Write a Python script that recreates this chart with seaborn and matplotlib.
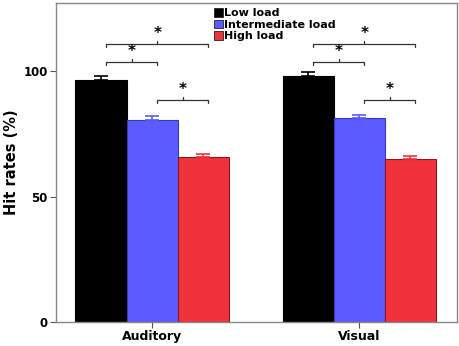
import seaborn as sns
import pandas as pd
import matplotlib.pyplot as plt
from matplotlib.patches import Patch

modalities = ['Auditory', 'Visual']
loads = ['Low load', 'Intermediate load', 'High load']
hit_rates = {
    'Auditory': [96.4, 80.6, 65.9],
    'Visual': [98.0, 81.3, 65.1],
}
errors = {
    'Auditory': [1.6, 1.5, 1.2],
    'Visual': [1.6, 1.2, 1.2],
}
# significance brackets: (first load, second load, height)
brackets = [(0, 1, 103.6), (1, 2, 88.5), (0, 2, 110.6)]
yticks = [0, 50, 100]

colors = ['#000000', '#5a5cff', '#ef323c']
edges = ['#000000', '#3a3ab0', '#8a1a20']

rows = []
for m in modalities:
    for i, l in enumerate(loads):
        rows.append({'Modality': m, 'Load': l, 'Hit': hit_rates[m][i], 'Err': errors[m][i]})
df = pd.DataFrame(rows)

sns.set_style('white')
plt.rcParams['font.family'] = ['DejaVu Sans']
plt.rcParams['text.color'] = 'black'
plt.rcParams['axes.labelcolor'] = 'black'
plt.rcParams['xtick.color'] = 'black'
plt.rcParams['ytick.color'] = 'black'

fig = plt.figure(figsize=(4.59, 3.46), dpi=100)
ax = fig.add_axes([0.122, 0.069, 0.874, 0.922])

sns.barplot(data=df, x='Modality', y='Hit', hue='Load', order=modalities, hue_order=loads,
            palette=colors, saturation=1, width=0.74, errorbar=None, linewidth=0.8,
            ax=ax, legend=False)

# bar positions in data coordinates
centers = {}
for j, l in enumerate(loads):
    cont = ax.containers[j]
    for k, m in enumerate(modalities):
        p = cont.patches[k]
        p.set_edgecolor(edges[j])
        cx = p.get_x() + p.get_width() / 2
        centers[(m, j)] = cx
        ax.errorbar(cx, hit_rates[m][j], yerr=[[0], [errors[m][j]]], fmt='none',
                    ecolor=colors[j], elinewidth=1.2, capsize=5, capthick=1.2, zorder=3)

for m in modalities:
    for a, b, h in brackets:
        x0 = centers[(m, a)] + 0.025
        x1 = centers[(m, b)] + 0.025
        ax.plot([x0, x0, x1, x1], [h - 1.2, h, h, h - 1.2], color='#333333', lw=0.9)
        xm = (x0 + x1) / 2
        ax.plot([xm, xm], [h, h + 1.2], color='#333333', lw=0.9)
        ax.text(xm, h + 1.2, '*', ha='center', va='bottom', fontsize=11, fontweight='bold')

ax.set_xlim(-0.464, 1.473)
ax.set_ylim(0, 127)
ax.set_yticks(yticks)
ax.set_yticklabels([str(t) for t in yticks], fontsize=8.5, fontweight='bold')
ax.set_xticks(range(len(modalities)))
ax.set_xticklabels(modalities, fontsize=9, fontweight='bold')
ax.set_xlabel('')
ax.set_ylabel('Hit rates (%)', fontsize=10.5, fontweight='bold', labelpad=3)
ax.tick_params(axis='both', direction='out', length=4, width=0.8, color='#555555',
               left=True, bottom=True, pad=2)
for s in ax.spines.values():
    s.set_color('#888888')
    s.set_linewidth(1.0)

handles = [Patch(facecolor=c, edgecolor='#222222', linewidth=0.6) for c in colors]
leg = ax.legend(handles, loads, loc='upper left', bbox_to_anchor=(0.377, 1.005), frameon=False,
                prop={'size': 8, 'weight': 'bold'}, handlelength=0.8, handleheight=0.8,
                handletextpad=0.15, labelspacing=0.12, borderaxespad=0.2)

fig.savefig('out.png', dpi=100)
